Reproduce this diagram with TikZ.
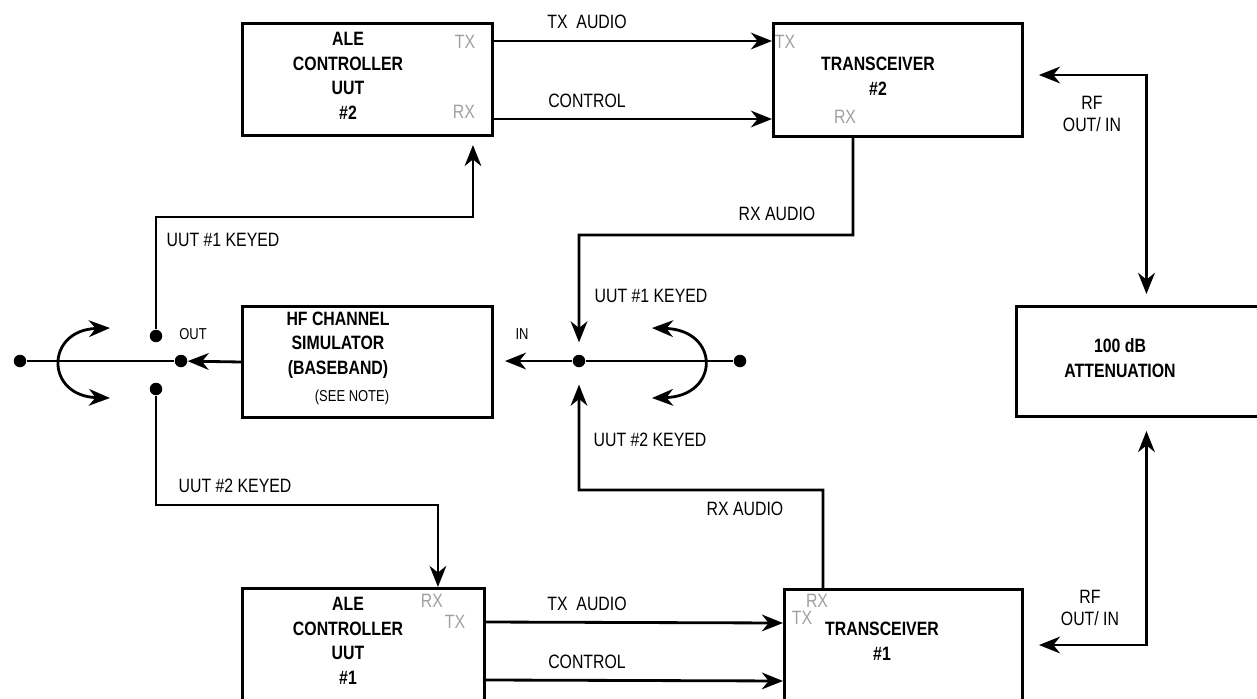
\documentclass[tikz,border=0pt]{standalone}
\usepackage{fontspec}
\setmainfont{Liberation Sans}[FakeStretch=0.82]
\usepackage{tikz}
\usetikzlibrary{arrows.meta}
\definecolor{portgray}{RGB}{160,160,160}

\begin{document}
\begin{tikzpicture}[x=0.02cm,y=-0.02cm,
  box/.style={draw,line width=1.7pt,anchor=north west,inner sep=0pt},
  title/.style={font=\fontsize{11}{14}\selectfont\bfseries,align=center,inner sep=0pt},
  lbl/.style={font=\fontsize{11}{13}\selectfont,align=center,inner sep=0pt},
  small/.style={font=\fontsize{9}{11}\selectfont,inner sep=0pt},
  port/.style={font=\fontsize{11}{13}\selectfont,text=portgray,inner sep=0pt},
  wire/.style={line width=1.6pt},
  arr/.style={wire,-{Stealth[length=12pt,width=9.5pt,inset=3.8pt]}},
  arrb/.style={wire,{Stealth[length=12pt,width=9.5pt,inset=3.8pt]}-{Stealth[length=12pt,width=9.5pt,inset=3.8pt]}},
  dot/.style={circle,fill,inner sep=0pt,minimum size=0.25cm}]

\useasboundingbox (0,0) rectangle (1257,698);

\node[box,minimum width=5cm,minimum height=2.24cm] (ale2) at (241,22) {};
\node[box,minimum width=4.98cm,minimum height=2.26cm] (xcvr2) at (772,22) {};
\node[box,minimum width=5cm,minimum height=2.22cm] (hfsim) at (241,305) {};
\node[box,minimum width=5.2cm,minimum height=2.2cm] (atten) at (1015,305) {};
\node[box,minimum width=4.84cm,minimum height=2.6cm] (ale1) at (241,587) {};
\node[box,minimum width=4.76cm,minimum height=2.6cm] (xcvr1) at (783,588) {};

\node[title] (ale2txt) at (348,76) {ALE\\CONTROLLER\\UUT\\\#2};
\node[title] (xcvr2txt) at (878,76) {TRANSCEIVER\\\#2};
\node[title] (hfsimtxt) at (338,345) {HF CHANNEL\\SIMULATOR\\(BASEBAND)};
\node[small] (seenote) at (352,397) {(SEE NOTE)};
\node[title] (attentxt) at (1120,358) {100 dB\\ATTENUATION};
\node[title] (ale1txt) at (348,641) {ALE\\CONTROLLER\\UUT\\\#1};
\node[title] (xcvr1txt) at (882,641) {TRANSCEIVER\\\#1};

\node[port] (ale2tx) at (465,42) {TX};
\node[port] (ale2rx) at (464,112) {RX};
\node[port] (xcvr2tx) at (785,42) {TX};
\node[port] (xcvr2rx) at (845,117) {RX};
\node[port] (ale1rx) at (432,601) {RX};
\node[port] (ale1tx) at (455,622) {TX};
\node[port] (xcvr1rx) at (817,601) {RX};
\node[port] (xcvr1tx) at (802,618) {TX};

\draw[arr] ([yshift=-0.38cm]ale2.north east) -- ([yshift=-0.38cm]xcvr2.north west);
\draw[arr] ([yshift=-1.94cm]ale2.north east) -- ([yshift=-1.94cm]xcvr2.north west);
\draw[arr] ([yshift=-0.7cm]ale1.north east) -- ([yshift=-0.7cm]xcvr1.north west);
\draw[arr] ([yshift=-1.86cm]ale1.north east) -- ([yshift=-1.86cm]xcvr1.north west);
\node[lbl] (txa2) at (587,22) {TX\ \ AUDIO};
\node[lbl] (ctl2) at (587,101) {CONTROL};
\node[lbl] (txa1) at (587,604) {TX\ \ AUDIO};
\node[lbl] (ctl1) at (587,662) {CONTROL};

\draw[arrb,shorten <=0.3cm,shorten >=0.22cm] ([yshift=-1.06cm]xcvr2.north east) -| (atten.north);
\draw[arrb,shorten <=0.26cm,shorten >=0.3cm] (atten.south) |- ([yshift=-1.14cm]xcvr1.north east);
\node[lbl] (rf2) at (1092,114) {RF\\OUT/ IN};
\node[lbl] (rf1) at (1090,608) {RF\\OUT/ IN};

\node[dot] (outd) at (181,361) {};
\node[dot] (k1d) at (156,336) {};
\node[dot] (k2d) at (156,389) {};
\node[dot] (lnd) at (20,361) {};
\draw[wire] (lnd) -- (outd);
\draw[arr] (hfsim.west) -- (outd);
\node[small] (outlbl) at (193,334) {OUT};
\coordinate (ls1) at (110,328);
\coordinate (ls2) at (110,398);
\draw[arrb] (ls1) .. controls (45,330) and (45,396) .. (ls2);

\coordinate (k1turn) at (156,217);
\draw[arr,shorten >=0.16cm] (k1d) -- (k1turn) -| ([xshift=-0.42cm]ale2.south east);
\node[lbl] (k1lbl) at (223,240) {UUT \#1 KEYED};
\coordinate (k2turn) at (156,505);
\draw[arr] (k2d) -- (k2turn) -| ([xshift=-0.96cm]ale1.north east);
\node[lbl] (k2lbl) at (235,486) {UUT \#2 KEYED};

\node[dot] (ind) at (579,361) {};
\node[dot] (rnd) at (740,361) {};
\draw[wire] (ind) -- (rnd);
\draw[arr,shorten >=0.22cm] (ind) -- (hfsim.east |- ind);
\node[small] (inlbl) at (522,334) {IN};
\coordinate (rs1) at (652,328);
\coordinate (rs2) at (652,398);
\draw[arrb] (rs1) .. controls (720,330) and (720,396) .. (rs2);

\coordinate (rx2turn) at (853,235);
\draw[arr,shorten >=0.24cm] ([xshift=1.62cm]xcvr2.south west) -- (rx2turn) -| (ind);
\node[lbl] (rx2lbl) at (777,214) {RX AUDIO};
\node[lbl] (ink1) at (651,296) {UUT \#1 KEYED};
\coordinate (rx1turn) at (823,490);
\draw[arr,shorten >=0.34cm] ([xshift=0.8cm]xcvr1.north west) -- (rx1turn) -| (ind);
\node[lbl] (rx1lbl) at (745,509) {RX AUDIO};
\node[lbl] (ink2) at (650,440) {UUT \#2 KEYED};
\end{tikzpicture}
\end{document}
